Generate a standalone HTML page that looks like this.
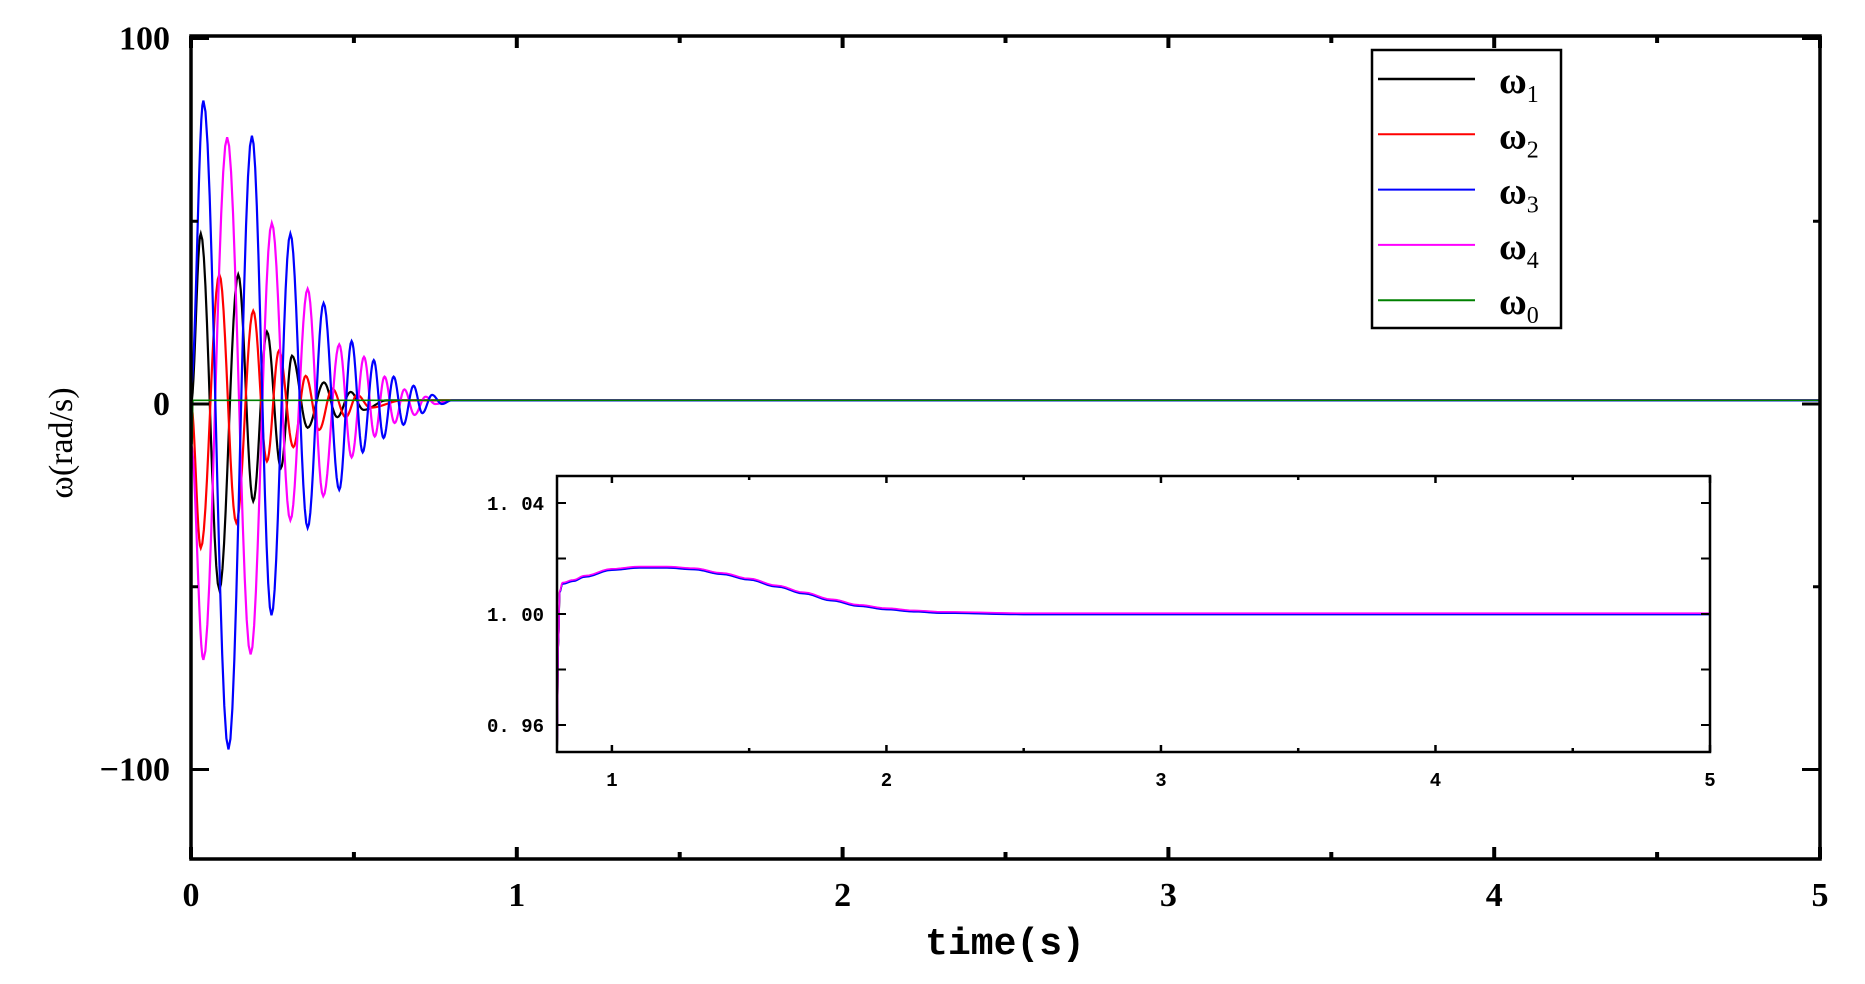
<!DOCTYPE html>
<html><head><meta charset="utf-8">
<style>
html,body{margin:0;padding:0;background:#fff;}
svg{display:block;}
</style></head>
<body>
<svg id="chart" width="1865" height="984" xmlns="http://www.w3.org/2000/svg">
  <g id="main"></g>
  <g id="inset"></g>
  <g id="legend"></g>
</svg>
<script>
// ---- data (extrema) ----
const seriesNames = ['ω1','ω2','ω3','ω4','ω0'];
const seriesColors = ['#000000','#ff0000','#0000ff','#ff00ff','#008000'];
const t1 = [0,0.03,0.087,0.145,0.191,0.233,0.276,0.31,0.358,0.408,0.449,0.49,0.53,0.6,0.8,5];
const v1 = [0,46.6,-50.8,35.4,-26.6,19.8,-17.5,13.2,-6.5,5.9,-3.6,3.3,-1.6,1,1,1];
const t2 = [0,0.03,0.087,0.139,0.191,0.233,0.27,0.314,0.352,0.393,0.434,0.475,0.51,0.55,0.65,0.8,5];
const v2 = [0,-39.4,35.4,-32.5,25.5,-15.7,14.6,-11.8,7.7,-7.1,4.2,-3.6,2.5,-1,1,1,1];
const t3 = [0,0.038,0.115,0.187,0.247,0.305,0.358,0.407,0.455,0.493,0.527,0.561,0.591,0.622,0.652,0.683,0.71,0.74,0.77,0.8,5];
const v3 = [5,83,-94.5,73.4,-57.8,46.6,-33.9,27.6,-23.5,17.2,-13.2,12,-9.3,7.5,-5.7,5,-2.5,2.5,0,1,1];
const t4 = [0,0.038,0.111,0.183,0.248,0.305,0.358,0.406,0.455,0.493,0.531,0.564,0.594,0.625,0.655,0.686,0.72,0.75,0.8,5];
const v4 = [-11,-70,73,-68.5,49.5,-31.8,31.5,-25.2,16.3,-14.6,12.9,-8.9,7.5,-5.2,4,-3,2,0,1,1];
const t0 = [0,0.003,0.006,0.01,5];
const v0 = [9,-11,1,1,1];
const seriesT = [t1,t2,t3,t4,t0];
const seriesV = [v1,v2,v3,v4,v0];
// inset (zoomed, all series nearly overlap)
const insetT = [0.8,0.805,0.81,0.82,0.86,0.9,1.0,1.1,1.2,1.3,1.4,1.5,1.6,1.7,1.8,1.9,2.0,2.1,2.2,2.5,3,3.5,4,4.5,5];
const insetV = [0.95,0.99,1.008,1.011,1.012,1.0135,1.016,1.0168,1.0168,1.0162,1.0145,1.0125,1.01,1.0075,1.005,1.003,1.0018,1.001,1.0005,1.0,1.0,1.0,1.0,1.0,1.0];
const xTicks = [0,1,2,3,4,5];
const yTicks = [100,0,-100];
const insetXTicks = [1,2,3,4,5];
const insetYTicks = [1.04,1.00,0.96];
const insetYLabels = ['1. 04','1. 00','0. 96'];

const NS='http://www.w3.org/2000/svg';
function mk(parent,tag,attrs,text){
  const e=document.createElementNS(NS,tag);
  for(const k in attrs) e.setAttribute(k,attrs[k]);
  if(text!==undefined) e.textContent=text;
  parent.appendChild(e); return e;
}
// main axes
const L=191,R=1820,T=36,B=859;
const X=t=>L+(t-0)/5*(R-L);
const Y=v=>404-v*3.655;
const main=document.getElementById('main');
function curve(ts,vs,xf,yf,n){
  let d='';
  for(let i=0;i<ts.length-1;i++){
    for(let k=0;k<n;k++){
      const u=k/n, t=ts[i]+(ts[i+1]-ts[i])*u;
      const v=vs[i]+(vs[i+1]-vs[i])*(1-Math.cos(Math.PI*u))/2;
      d+=(d?'L':'M')+xf(t).toFixed(2)+','+yf(v).toFixed(2);
    }
  }
  d+='L'+xf(ts[ts.length-1]).toFixed(2)+','+yf(vs[vs.length-1]).toFixed(2);
  return d;
}
const order=[0,1,3,2,4];
order.forEach(i=>{
  const p=mk(main,'path',{d:curve(seriesT[i],seriesV[i],X,Y,12),fill:'none',stroke:seriesColors[i],'stroke-width':i===4?1.6:2.2});
  
  
});
const fr=mk(main,'rect',{x:L,y:T,width:R-L,height:B-T,fill:'none',stroke:'#000','stroke-width':3.5});


for(let t=0;t<=5;t+=0.5){
  const len=Number.isInteger(t)?12:7, x=X(t);
  mk(main,'line',{x1:x,y1:B,x2:x,y2:B-len,stroke:'#000','stroke-width':4});
  mk(main,'line',{x1:x,y1:T,x2:x,y2:T+len,stroke:'#000','stroke-width':4});
}
xTicks.forEach(t=>{
  const tx=mk(main,'text',{x:X(t),y:906,'text-anchor':'middle','font-family':'Liberation Serif, serif','font-size':34,'font-weight':'bold'},String(t));
  
  
});
[-100,-50,0,50,100].forEach(v=>{
  const len=(v%100===0)?18:7, y=Y(v);
  mk(main,'line',{x1:L,y1:y,x2:L+len,y2:y,stroke:'#000','stroke-width':3});
  mk(main,'line',{x1:R,y1:y,x2:R-len,y2:y,stroke:'#000','stroke-width':3});
});
yTicks.forEach(v=>{
  const tx=mk(main,'text',{x:170,y:Y(v)+11,'text-anchor':'end','font-family':'Liberation Serif, serif','font-size':34,'font-weight':'bold'},v<0?'\u2212'+(-v):String(v));
  
  
});
const xt=mk(main,'text',{x:1005,y:954,'text-anchor':'middle','font-family':'Liberation Mono, monospace','font-size':38,'font-weight':'bold'},'time(s)');


const yt=mk(main,'text',{x:0,y:0,transform:'translate(72,443) rotate(-90)','text-anchor':'middle','font-family':'Liberation Serif, serif','font-size':34},'ω(rad/s)');



// inset
const iL=557,iR=1710,iT=476,iB=752;
const IX=t=>iL+(t-0.8)/4.2*(iR-iL);
const IY=v=>(iT+iB)/2-(v-1.0)/0.04*111;
const inset=document.getElementById('inset');
mk(inset,'rect',{x:iL,y:iT,width:iR-iL,height:iB-iT,fill:'#fff'});
const clipd=mk(inset,'clipPath',{id:'ic'});
mk(clipd,'rect',{x:iL,y:iT,width:iR-iL,height:iB-iT});
const offs=[0,0.0002,-0.0002,0.0003,-0.0001];
[4,0,1,2,3].forEach(i=>{
  const vs=insetV.map(v=>v+offs[i]);
  const p=mk(inset,'path',{d:curve(insetT,vs,IX,IY,6),fill:'none',stroke:seriesColors[i],'stroke-width':1.6,'clip-path':'url(#ic)'});
  
  
});
const ifr=mk(inset,'rect',{x:iL,y:iT,width:iR-iL,height:iB-iT,fill:'none',stroke:'#000','stroke-width':2.5});


for(let t=1;t<=5;t+=0.5){
  const len=Number.isInteger(t)?7:4, x=IX(t);
  mk(inset,'line',{x1:x,y1:iB,x2:x,y2:iB-len,stroke:'#000','stroke-width':2.5});
  mk(inset,'line',{x1:x,y1:iT,x2:x,y2:iT+len,stroke:'#000','stroke-width':2.5});
}
[0.96,0.98,1.0,1.02,1.04].forEach(v=>{
  const len=9,y=IY(v);
  mk(inset,'line',{x1:iL,y1:y,x2:iL+len,y2:y,stroke:'#000','stroke-width':2});
  mk(inset,'line',{x1:iR,y1:y,x2:iR-len,y2:y,stroke:'#000','stroke-width':2});
});
insetXTicks.forEach(t=>{
  const tx=mk(inset,'text',{x:IX(t),y:786,'text-anchor':'middle','font-family':'Liberation Mono, monospace','font-size':19,'font-weight':'bold'},String(t));
  
  
});
insetYTicks.forEach((v,i)=>{
  const tx=mk(inset,'text',{x:544,y:IY(v)+7,'text-anchor':'end','font-family':'Liberation Mono, monospace','font-size':19,'font-weight':'bold'},insetYLabels[i]);
  
  
});

// legend
const lg=document.getElementById('legend');
mk(lg,'rect',{x:1380,y:50,width:189,height:278,fill:'#fff',stroke:'#000','stroke-width':2.5,transform:'translate(-8,0)'});
const subs=['1','2','3','4','0'];
[0,1,2,3,4].forEach(i=>{
  const y=79+i*55.3;
  const ln=mk(lg,'line',{x1:1378,y1:y,x2:1475,y2:y,stroke:seriesColors[i],'stroke-width':i===0?2.5:2});
  
  
  const tx=mk(lg,'text',{x:1499,y:y+14,'font-family':'Liberation Serif, serif','font-size':38,'font-weight':'bold'},'ω');
  
  
  mk(tx,'tspan',{'font-size':24,'font-weight':'normal',dy:9},subs[i]);
});
</script>
</body></html>
